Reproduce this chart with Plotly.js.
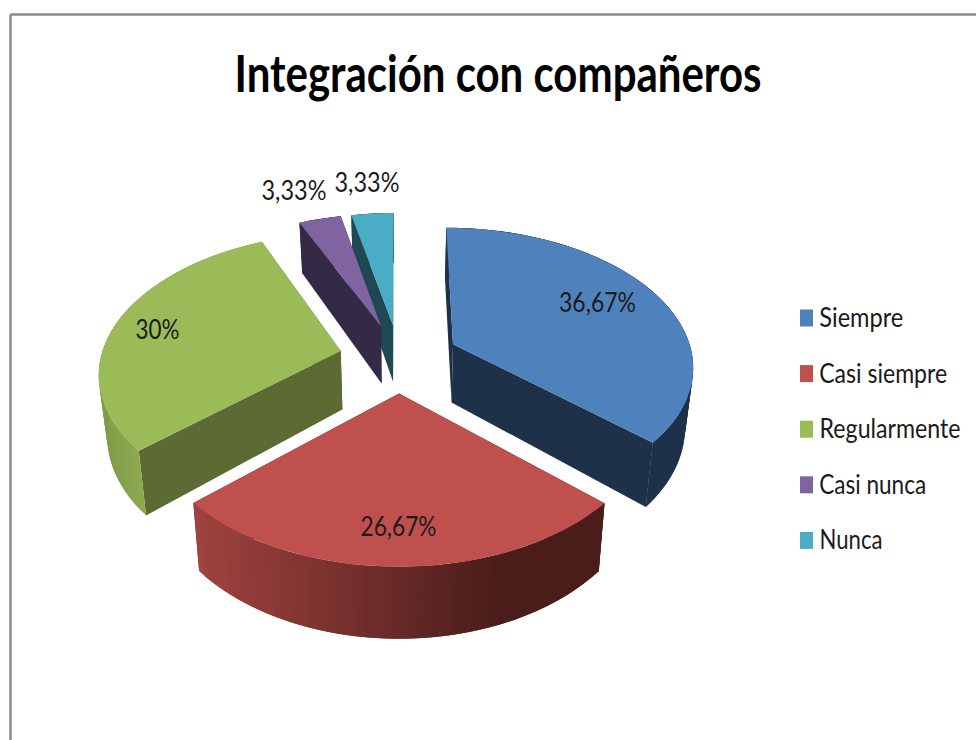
<!DOCTYPE html>
<html>
<head>
<meta charset="utf-8">
<script src="https://cdn.plot.ly/plotly-3.0.1.min.js"></script>
<style>html,body{margin:0;padding:0;background:#fff}#chart{width:976px;height:740px}</style>
</head>
<body>
<div id="chart"></div>
<script>
// Data
const categories = ['Siempre', 'Casi siempre', 'Regularmente', 'Casi nunca', 'Nunca'];
const percentages = [36.67, 26.67, 30, 3.33, 3.33];
const chartTitle = 'Integración con compañeros';

// Styles
const topColors = ['#4F81BD', '#C0504D', '#9BBB59', '#8064A2', '#4BACC6'];
const wallColors = ['#1D3249', '#4A1D1B', '#5C6B33', '#352A45', '#1E4853'];
const labelRadius = [0.73, 0.79, 0.81, 1.33, 1.33];
const labelTurn = [-3, 0, 0, -2, 0];
const labelWidths = [77, 76, 44, 65, 65];
const legendWidths = [84, 128, 141, 107, 63];
const titleWidth = 527;
const drawOrder = [4, 3, 2, 0, 1];
const FONT = 'Lato, "Liberation Sans", sans-serif';

// 3D-pie projection
const view = {cx: 399, cy: 358, a: 240, b: 137, p: 0.144, explode: 0.25, depth: 59, shrink: 0.028};
function project(u, v, z) {
  const D = 1 + view.p * v;
  return [view.cx + (view.a * u / D) * (1 - view.shrink * z), view.cy - view.b * v / D + view.depth * z / D];
}
const rad = d => d * Math.PI / 180;
const total = percentages.reduce((s, v) => s + v, 0);
let running = 0;
const slices = percentages.map(v => {
  const start = running / total * 360;
  running += v;
  return {start, end: running / total * 360};
});
function slicePoint(s, angle, r, z) {
  const m = rad((s.start + s.end) / 2), t = rad(angle);
  return project(view.explode * Math.sin(m) + r * Math.sin(t), view.explode * Math.cos(m) + r * Math.cos(t), z);
}
function poly(pts, color) {
  const closed = pts.concat([pts[0]]);
  return {
    type: 'scatter', mode: 'lines', fill: 'toself', fillcolor: color,
    x: closed.map(p => p[0]), y: closed.map(p => p[1]),
    line: {color: color, width: 0}, hoverinfo: 'skip', showlegend: false
  };
}
function arcAngles(s) {
  const n = Math.max(3, Math.ceil((s.end - s.start) / 2));
  return Array.from({length: n + 1}, (_, i) => s.start + (s.end - s.start) * i / n);
}
function mix(c1, c2, t) {
  t = Math.max(0, Math.min(1, t));
  return 'rgb(' + c1.map((c, i) => Math.round(c + (c2[i] - c) * t)).join(',') + ')';
}
function outerShade(i, x) {
  if (i === 1) return mix([160, 66, 63], [74, 29, 27], (x - 195) / 305);
  if (i === 2) return mix([128, 155, 72], [143, 172, 82], (x - 100) / 45);
  return wallColors[i];
}

const traces = [];
drawOrder.forEach(i => {
  const s = slices[i], angles = arcAngles(s);
  // radial walls
  [s.start, s.end].forEach(a => {
    traces.push(poly([slicePoint(s, a, 0, 0), slicePoint(s, a, 1, 0), slicePoint(s, a, 1, 1), slicePoint(s, a, 0, 1)], wallColors[i]));
  });
  // outer wall: each strip runs under the next one so no seams show
  const seq = i === 1 ? angles.slice().reverse() : angles;
  for (let k = 0; k < seq.length - 1; k++) {
    const far = seq[Math.min(k + 2, seq.length - 1)], near = seq[k], midA = seq[k + 1];
    const p1 = slicePoint(s, near, 1, 0), p2 = slicePoint(s, midA, 1, 0), p2b = slicePoint(s, far, 1, 0);
    const p3b = slicePoint(s, far, 1, 1), p3 = slicePoint(s, midA, 1, 1), p4 = slicePoint(s, near, 1, 1);
    traces.push(poly([p1, p2, p2b, p3b, p3, p4], outerShade(i, (p1[0] + p2[0]) / 2)));
  }
  // top face
  traces.push(poly([slicePoint(s, 0, 0, 0)].concat(angles.map(a => slicePoint(s, a, 1, 0))), topColors[i]));
});

// data labels
const squeeze = new Map([[chartTitle, [titleWidth]]]);
function note(key, width) {
  if (!squeeze.has(key)) squeeze.set(key, []);
  squeeze.get(key).push(width);
}
const annotations = percentages.map((v, i) => {
  const s = slices[i], p = slicePoint(s, (s.start + s.end) / 2 + labelTurn[i], labelRadius[i], 0);
  const text = String(v).replace('.', ',') + '%';
  note(text, labelWidths[i]);
  return {
    x: p[0], y: p[1], xref: 'x', yref: 'y', showarrow: false, xanchor: 'center', yanchor: 'middle',
    text, font: {family: FONT, size: 26, color: '#1a1a1a'}
  };
});

// legend, drawn so the swatches sit tight to the text
const legendX = 800, legendY = 318, legendStep = 55.6;
const shapes = [
  {type: 'line', xref: 'x', yref: 'y', x0: 10.5, y0: 14.5, x1: 976, y1: 14.5, line: {color: '#8a8a8a', width: 2.5}},
  {type: 'line', xref: 'x', yref: 'y', x0: 10.5, y0: 14.5, x1: 10.5, y1: 740, line: {color: '#8a8a8a', width: 2.5}}
];
categories.forEach((c, i) => {
  const y = legendY + i * legendStep;
  shapes.push({type: 'rect', xref: 'x', yref: 'y', x0: legendX, x1: legendX + 13, y0: y - 8.5, y1: y + 8.5, fillcolor: topColors[i], line: {width: 0}});
  note(c, legendWidths[i]);
  annotations.push({
    x: legendX + 19 + legendWidths[i] / 2, y: y - 1, xref: 'x', yref: 'y', showarrow: false, xanchor: 'center', yanchor: 'middle',
    text: c, font: {family: FONT, size: 26, color: '#1a1a1a'}
  });
});

const layout = {
  width: 976, height: 740, autosize: false,
  margin: {l: 0, r: 0, t: 0, b: 0},
  paper_bgcolor: '#fff', plot_bgcolor: '#fff', showlegend: false,
  title: {text: chartTitle, x: 498 / 976, xanchor: 'center', y: 1 - 74 / 740, yanchor: 'middle', font: {family: FONT, size: 52, weight: 700, color: '#000'}},
  xaxis: {range: [0, 976], visible: false, fixedrange: true},
  yaxis: {range: [740, 0], visible: false, fixedrange: true},
  shapes, annotations
};
Plotly.newPlot('chart', traces, layout, {displayModeBar: false, responsive: false}).then(() => {
  // the reference's type is horizontally condensed: fit each real text to its read width
  document.querySelectorAll('#chart text').forEach(t => {
    const list = squeeze.get(t.textContent);
    if (list && list.length) {
      t.setAttribute('textLength', list.shift());
      t.setAttribute('lengthAdjust', 'spacingAndGlyphs');
    }
  });
});
</script>
</body>
</html>
